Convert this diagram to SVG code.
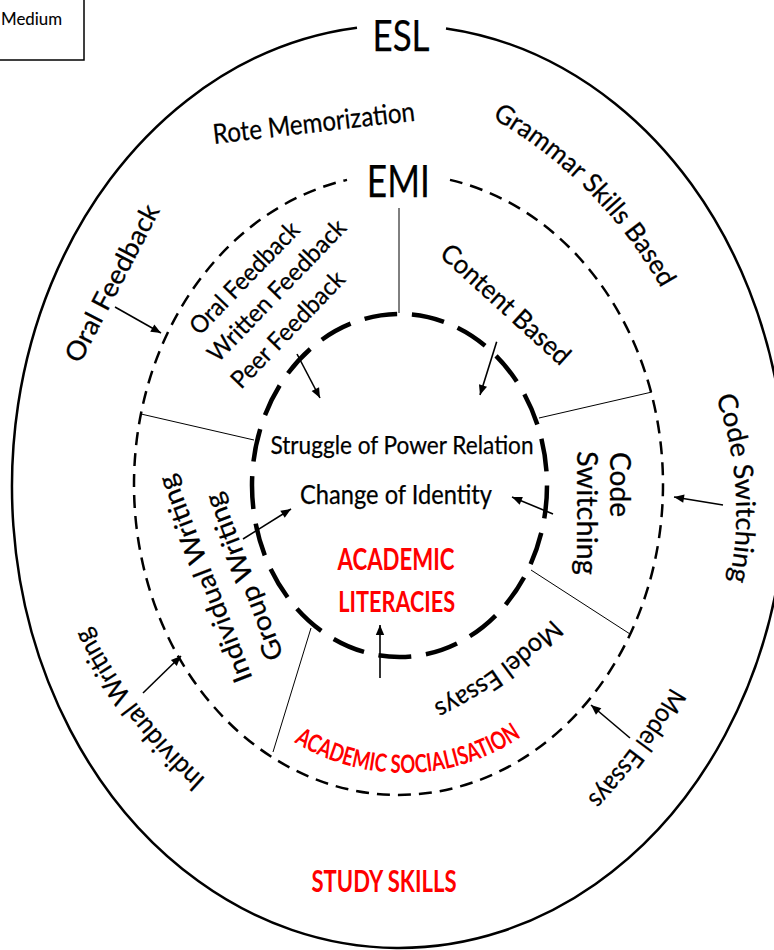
<svg xmlns="http://www.w3.org/2000/svg" width="774" height="950" viewBox="0 0 774 950">
<style>
.t{font-family:Lato,'Liberation Sans',sans-serif;fill:#000;stroke:#000;stroke-width:0.25}
.r{font-family:Lato,'Liberation Sans',sans-serif;fill:#ff0000;font-weight:bold}
.ring{fill:none;stroke:#000}
.spoke{stroke:#000;stroke-width:1;fill:none}
.arr{stroke:#000;stroke-width:1.6;fill:none;marker-end:url(#ah)}
</style>
<defs>
<marker id="ah" viewBox="0 0 10 10" refX="10" refY="5" markerWidth="11" markerHeight="10" markerUnits="userSpaceOnUse" orient="auto">
<path d="M0,0.8 L10,5 L0,9.2 z" fill="#000"/>
</marker>
<path id="p-grammar" d="M492,118 A447,447 0 0 1 662,290"/>
<path id="p-cs-out" d="M716,397 A342,342 0 0 1 729,583"/>
<path id="p-me-out" d="M671,687 A580,580 0 0 1 587,799"/>
<path id="p-me-in" d="M552,619 A420,420 0 0 1 432,705"/>
<path id="p-iw-out" d="M206,779 A522,522 0 0 1 88,625"/>
<path id="p-as" d="M294,742 A210,210 0 0 0 524,735"/>
</defs>
<rect width="774" height="950" fill="#fff"/>

<g id="medium-box">
<rect x="-1" y="-1" width="85" height="61" fill="none" stroke="#000" stroke-width="1.5"/>
<text class="t" x="1" y="25" font-size="17" textLength="61" lengthAdjust="spacingAndGlyphs" style="stroke-width:0.1">Medium</text>
</g>

<g id="esl-ring">
<path class="ring" stroke-width="2.5" d="M446,28.4 A387,461.5 0 1 1 357,27.7"/>
<text class="t" x="401" y="51" font-size="43" text-anchor="middle" textLength="57" lengthAdjust="spacingAndGlyphs">ESL</text>
</g>

<g id="emi-ring">
<path class="ring" stroke-width="2.5" stroke-dasharray="13 8" d="M450,179.9 A264.5,310.5 0 1 1 347,179.9"/>
<text class="t" x="398.3" y="196.7" font-size="45" text-anchor="middle" textLength="63" lengthAdjust="spacingAndGlyphs">EMI</text>
</g>

<g id="al-ring">
<ellipse class="ring" cx="399.5" cy="485.5" rx="147.5" ry="171.5" stroke-width="4.5" stroke-dasharray="33 14.8"/>
</g>

<g id="label-rote">
<text class="t" x="214" y="144" font-size="27.5" transform="rotate(-6.6 214 144)" textLength="203" lengthAdjust="spacingAndGlyphs">Rote Memorization</text>
</g>
<g id="label-grammar">
<text class="t" font-size="26.5"><textPath href="#p-grammar" textLength="243" lengthAdjust="spacingAndGlyphs">Grammar Skills Based</textPath></text>
</g>
<g id="label-oral-outer">
<text class="t" font-size="26.5" text-anchor="middle" transform="translate(111.7 283) rotate(-62.5)" x="0" y="9.5" textLength="174" lengthAdjust="spacingAndGlyphs">Oral Feedback</text>
</g>
<g id="label-feedback-inner">
<g transform="translate(199 337) rotate(-46)">
<text class="t" font-size="24.5" x="1" y="0" textLength="146" lengthAdjust="spacingAndGlyphs">Oral Feedback</text>
<text class="t" font-size="24.5" x="-6" y="32" textLength="187" lengthAdjust="spacingAndGlyphs">Written Feedback</text>
<text class="t" font-size="24.5" x="-9" y="67" textLength="152" lengthAdjust="spacingAndGlyphs">Peer Feedback</text>
</g>
</g>
<g id="label-content">
<text class="t" font-size="26.5" text-anchor="middle" transform="translate(506 304) rotate(42.3)" x="0" y="9.5" textLength="165" lengthAdjust="spacingAndGlyphs">Content Based</text>
</g>
<g id="label-cs-outer">
<text class="t" font-size="27"><textPath href="#p-cs-out" textLength="187" lengthAdjust="spacingAndGlyphs">Code Switching</textPath></text>
</g>
<g id="label-cs-inner">
<text class="t" font-size="28" x="610" y="452" transform="rotate(90 610 452)" textLength="65" lengthAdjust="spacingAndGlyphs">Code</text>
<text class="t" font-size="28" x="577" y="451" transform="rotate(90 577 451)" textLength="124" lengthAdjust="spacingAndGlyphs">Switching</text>
</g>
<g id="label-core">
<text class="t" x="402" y="454" font-size="25.5" text-anchor="middle" textLength="263" lengthAdjust="spacingAndGlyphs">Struggle of Power Relation</text>
<text class="t" x="396" y="504" font-size="26.5" text-anchor="middle" textLength="192" lengthAdjust="spacingAndGlyphs">Change of Identity</text>
<text class="r" x="396" y="569.5" font-size="29.5" text-anchor="middle" textLength="117" lengthAdjust="spacingAndGlyphs">ACADEMIC</text>
<text class="r" x="396.7" y="612" font-size="28.5" text-anchor="middle" textLength="117" lengthAdjust="spacingAndGlyphs">LITERACIES</text>
</g>
<g id="label-group-writing">
<text class="t" font-size="26.5" text-anchor="middle" transform="translate(243.5 577) rotate(-111)" x="0" y="9.5" textLength="177" lengthAdjust="spacingAndGlyphs">Group Writing</text>
</g>
<g id="label-iw-inner">
<text class="t" font-size="26.5" text-anchor="middle" transform="translate(204.5 579) rotate(-111)" x="0" y="9.5" textLength="220" lengthAdjust="spacingAndGlyphs">Individual Writing</text>
</g>
<g id="label-iw-outer">
<text class="t" font-size="26.5"><textPath href="#p-iw-out" textLength="193" lengthAdjust="spacingAndGlyphs">Individual Writing</textPath></text>
</g>
<g id="label-me-inner">
<text class="t" font-size="26"><textPath href="#p-me-in" textLength="147" lengthAdjust="spacingAndGlyphs">Model Essays</textPath></text>
</g>
<g id="label-me-outer">
<text class="t" font-size="26.5"><textPath href="#p-me-out" textLength="140" lengthAdjust="spacingAndGlyphs">Model Essays</textPath></text>
</g>
<g id="label-socialisation">
<text class="r" font-size="25"><textPath href="#p-as" textLength="240" lengthAdjust="spacingAndGlyphs">ACADEMIC SOCIALISATION</textPath></text>
</g>
<g id="label-study">
<text class="r" x="384" y="892" font-size="29.5" text-anchor="middle" textLength="145" lengthAdjust="spacingAndGlyphs">STUDY SKILLS</text>
</g>

<g id="connectors">
<line class="spoke" x1="399" y1="208" x2="399" y2="313"/>
<line class="spoke" x1="141" y1="414" x2="254" y2="440"/>
<line class="spoke" x1="539" y1="418" x2="652" y2="392"/>
<line class="spoke" x1="531" y1="570" x2="630" y2="634"/>
<line class="spoke" x1="311" y1="628" x2="273" y2="752"/>
<line class="arr" x1="115" y1="307" x2="161" y2="333"/>
<line class="arr" x1="297" y1="354" x2="320" y2="398"/>
<line class="arr" x1="496.7" y1="341.7" x2="480" y2="395"/>
<line class="arr" x1="243" y1="539" x2="291" y2="509"/>
<line class="arr" x1="553" y1="514" x2="512" y2="497"/>
<line class="arr" x1="380" y1="678" x2="380" y2="625"/>
<line class="arr" x1="143" y1="693" x2="181" y2="656"/>
<line class="arr" x1="723" y1="505" x2="674" y2="497"/>
<line class="arr" x1="630" y1="738" x2="591" y2="705"/>
</g>
</svg>
